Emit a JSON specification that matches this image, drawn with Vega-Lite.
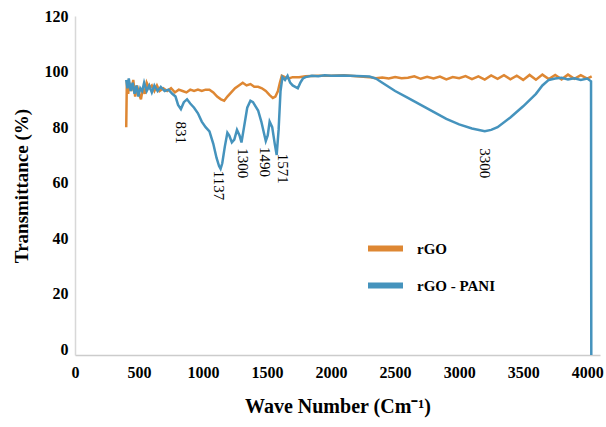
{
  "$schema": "https://vega.github.io/schema/vega-lite/v6.json",
  "width": 525,
  "height": 339,
  "autosize": {"type": "none"},
  "padding": {"left": 75, "top": 16, "right": 6, "bottom": 72},
  "background": "white",
  "config": {"view": {"stroke": null}, "font": "Liberation Serif"},
  "datasets": {
    "spectra": [
      {"series": "rGO", "wavenumber": 400, "transmittance": 80},
      {"series": "rGO", "wavenumber": 405, "transmittance": 97},
      {"series": "rGO", "wavenumber": 415, "transmittance": 92},
      {"series": "rGO", "wavenumber": 425, "transmittance": 96},
      {"series": "rGO", "wavenumber": 440, "transmittance": 93},
      {"series": "rGO", "wavenumber": 455, "transmittance": 97},
      {"series": "rGO", "wavenumber": 470, "transmittance": 91},
      {"series": "rGO", "wavenumber": 485, "transmittance": 95},
      {"series": "rGO", "wavenumber": 500, "transmittance": 92},
      {"series": "rGO", "wavenumber": 515, "transmittance": 90},
      {"series": "rGO", "wavenumber": 530, "transmittance": 94},
      {"series": "rGO", "wavenumber": 545, "transmittance": 92},
      {"series": "rGO", "wavenumber": 560, "transmittance": 96},
      {"series": "rGO", "wavenumber": 580, "transmittance": 94},
      {"series": "rGO", "wavenumber": 600, "transmittance": 95},
      {"series": "rGO", "wavenumber": 620, "transmittance": 93},
      {"series": "rGO", "wavenumber": 640, "transmittance": 95},
      {"series": "rGO", "wavenumber": 660, "transmittance": 93},
      {"series": "rGO", "wavenumber": 690, "transmittance": 94},
      {"series": "rGO", "wavenumber": 720, "transmittance": 93},
      {"series": "rGO", "wavenumber": 750, "transmittance": 94},
      {"series": "rGO", "wavenumber": 780, "transmittance": 92.5},
      {"series": "rGO", "wavenumber": 810, "transmittance": 93.5},
      {"series": "rGO", "wavenumber": 840, "transmittance": 93},
      {"series": "rGO", "wavenumber": 870, "transmittance": 92.5},
      {"series": "rGO", "wavenumber": 900, "transmittance": 93.5},
      {"series": "rGO", "wavenumber": 930, "transmittance": 93},
      {"series": "rGO", "wavenumber": 960, "transmittance": 93.5},
      {"series": "rGO", "wavenumber": 990, "transmittance": 93},
      {"series": "rGO", "wavenumber": 1020, "transmittance": 93.5},
      {"series": "rGO", "wavenumber": 1050, "transmittance": 93.5},
      {"series": "rGO", "wavenumber": 1080, "transmittance": 92.5},
      {"series": "rGO", "wavenumber": 1110, "transmittance": 91},
      {"series": "rGO", "wavenumber": 1140, "transmittance": 90},
      {"series": "rGO", "wavenumber": 1165, "transmittance": 89.5},
      {"series": "rGO", "wavenumber": 1190, "transmittance": 91},
      {"series": "rGO", "wavenumber": 1220, "transmittance": 92.5},
      {"series": "rGO", "wavenumber": 1250, "transmittance": 94},
      {"series": "rGO", "wavenumber": 1280, "transmittance": 95},
      {"series": "rGO", "wavenumber": 1310, "transmittance": 96},
      {"series": "rGO", "wavenumber": 1340, "transmittance": 95},
      {"series": "rGO", "wavenumber": 1370, "transmittance": 95.5},
      {"series": "rGO", "wavenumber": 1400, "transmittance": 94.5},
      {"series": "rGO", "wavenumber": 1430, "transmittance": 94.5},
      {"series": "rGO", "wavenumber": 1460, "transmittance": 94},
      {"series": "rGO", "wavenumber": 1490, "transmittance": 93},
      {"series": "rGO", "wavenumber": 1520, "transmittance": 91.5},
      {"series": "rGO", "wavenumber": 1545, "transmittance": 90.5},
      {"series": "rGO", "wavenumber": 1565, "transmittance": 91},
      {"series": "rGO", "wavenumber": 1585, "transmittance": 93},
      {"series": "rGO", "wavenumber": 1600, "transmittance": 96},
      {"series": "rGO", "wavenumber": 1615, "transmittance": 98.5},
      {"series": "rGO", "wavenumber": 1640, "transmittance": 98},
      {"series": "rGO", "wavenumber": 1670, "transmittance": 97.5},
      {"series": "rGO", "wavenumber": 1700, "transmittance": 98},
      {"series": "rGO", "wavenumber": 1750, "transmittance": 98},
      {"series": "rGO", "wavenumber": 1800, "transmittance": 98.3},
      {"series": "rGO", "wavenumber": 1900, "transmittance": 98.5},
      {"series": "rGO", "wavenumber": 2000, "transmittance": 98.5},
      {"series": "rGO", "wavenumber": 2100, "transmittance": 98.7},
      {"series": "rGO", "wavenumber": 2200, "transmittance": 98.3},
      {"series": "rGO", "wavenumber": 2300, "transmittance": 98},
      {"series": "rGO", "wavenumber": 2350, "transmittance": 97.6},
      {"series": "rGO", "wavenumber": 2400, "transmittance": 97.9},
      {"series": "rGO", "wavenumber": 2450, "transmittance": 97.5},
      {"series": "rGO", "wavenumber": 2500, "transmittance": 98},
      {"series": "rGO", "wavenumber": 2550, "transmittance": 97.6},
      {"series": "rGO", "wavenumber": 2600, "transmittance": 97.8},
      {"series": "rGO", "wavenumber": 2650, "transmittance": 98.3},
      {"series": "rGO", "wavenumber": 2700, "transmittance": 97.4},
      {"series": "rGO", "wavenumber": 2750, "transmittance": 98.1},
      {"series": "rGO", "wavenumber": 2800, "transmittance": 97.5},
      {"series": "rGO", "wavenumber": 2850, "transmittance": 98.2},
      {"series": "rGO", "wavenumber": 2900, "transmittance": 97.2},
      {"series": "rGO", "wavenumber": 2950, "transmittance": 98},
      {"series": "rGO", "wavenumber": 3000, "transmittance": 97.6},
      {"series": "rGO", "wavenumber": 3050, "transmittance": 98.4},
      {"series": "rGO", "wavenumber": 3100, "transmittance": 97.3},
      {"series": "rGO", "wavenumber": 3150, "transmittance": 98.3},
      {"series": "rGO", "wavenumber": 3200, "transmittance": 97.1},
      {"series": "rGO", "wavenumber": 3250, "transmittance": 98.6},
      {"series": "rGO", "wavenumber": 3300, "transmittance": 97.4},
      {"series": "rGO", "wavenumber": 3350, "transmittance": 98.7},
      {"series": "rGO", "wavenumber": 3400, "transmittance": 97.2},
      {"series": "rGO", "wavenumber": 3450, "transmittance": 98.5},
      {"series": "rGO", "wavenumber": 3500, "transmittance": 97},
      {"series": "rGO", "wavenumber": 3550, "transmittance": 98.8},
      {"series": "rGO", "wavenumber": 3600, "transmittance": 97.1},
      {"series": "rGO", "wavenumber": 3650, "transmittance": 98.9},
      {"series": "rGO", "wavenumber": 3700, "transmittance": 97.3},
      {"series": "rGO", "wavenumber": 3750, "transmittance": 98.8},
      {"series": "rGO", "wavenumber": 3800, "transmittance": 97.2},
      {"series": "rGO", "wavenumber": 3850, "transmittance": 98.9},
      {"series": "rGO", "wavenumber": 3900, "transmittance": 97.4},
      {"series": "rGO", "wavenumber": 3950, "transmittance": 98.7},
      {"series": "rGO", "wavenumber": 4000, "transmittance": 97.5},
      {"series": "rGO", "wavenumber": 4035, "transmittance": 98.3},
      {"series": "rGO - PANI", "wavenumber": 400, "transmittance": 97},
      {"series": "rGO - PANI", "wavenumber": 410, "transmittance": 94},
      {"series": "rGO - PANI", "wavenumber": 420, "transmittance": 97.5},
      {"series": "rGO - PANI", "wavenumber": 435, "transmittance": 93},
      {"series": "rGO - PANI", "wavenumber": 450, "transmittance": 96},
      {"series": "rGO - PANI", "wavenumber": 465, "transmittance": 92},
      {"series": "rGO - PANI", "wavenumber": 480, "transmittance": 95},
      {"series": "rGO - PANI", "wavenumber": 495, "transmittance": 91},
      {"series": "rGO - PANI", "wavenumber": 510, "transmittance": 94},
      {"series": "rGO - PANI", "wavenumber": 525, "transmittance": 93},
      {"series": "rGO - PANI", "wavenumber": 540, "transmittance": 96},
      {"series": "rGO - PANI", "wavenumber": 560, "transmittance": 93},
      {"series": "rGO - PANI", "wavenumber": 580, "transmittance": 95},
      {"series": "rGO - PANI", "wavenumber": 600, "transmittance": 92.5},
      {"series": "rGO - PANI", "wavenumber": 620, "transmittance": 95},
      {"series": "rGO - PANI", "wavenumber": 645, "transmittance": 93},
      {"series": "rGO - PANI", "wavenumber": 670, "transmittance": 94.5},
      {"series": "rGO - PANI", "wavenumber": 700, "transmittance": 93},
      {"series": "rGO - PANI", "wavenumber": 730, "transmittance": 93.5},
      {"series": "rGO - PANI", "wavenumber": 760, "transmittance": 92},
      {"series": "rGO - PANI", "wavenumber": 785, "transmittance": 91},
      {"series": "rGO - PANI", "wavenumber": 805, "transmittance": 88},
      {"series": "rGO - PANI", "wavenumber": 827, "transmittance": 86.5},
      {"series": "rGO - PANI", "wavenumber": 850, "transmittance": 89},
      {"series": "rGO - PANI", "wavenumber": 875, "transmittance": 90},
      {"series": "rGO - PANI", "wavenumber": 900, "transmittance": 88.5},
      {"series": "rGO - PANI", "wavenumber": 930, "transmittance": 87},
      {"series": "rGO - PANI", "wavenumber": 960, "transmittance": 85},
      {"series": "rGO - PANI", "wavenumber": 990, "transmittance": 82},
      {"series": "rGO - PANI", "wavenumber": 1020, "transmittance": 80},
      {"series": "rGO - PANI", "wavenumber": 1050, "transmittance": 78.5},
      {"series": "rGO - PANI", "wavenumber": 1080, "transmittance": 74},
      {"series": "rGO - PANI", "wavenumber": 1105, "transmittance": 69},
      {"series": "rGO - PANI", "wavenumber": 1125, "transmittance": 66},
      {"series": "rGO - PANI", "wavenumber": 1137, "transmittance": 65},
      {"series": "rGO - PANI", "wavenumber": 1150, "transmittance": 67},
      {"series": "rGO - PANI", "wavenumber": 1170, "transmittance": 73},
      {"series": "rGO - PANI", "wavenumber": 1190, "transmittance": 78},
      {"series": "rGO - PANI", "wavenumber": 1205, "transmittance": 77},
      {"series": "rGO - PANI", "wavenumber": 1225, "transmittance": 74.5},
      {"series": "rGO - PANI", "wavenumber": 1244, "transmittance": 75.5},
      {"series": "rGO - PANI", "wavenumber": 1265, "transmittance": 79},
      {"series": "rGO - PANI", "wavenumber": 1285, "transmittance": 77},
      {"series": "rGO - PANI", "wavenumber": 1300, "transmittance": 74.5},
      {"series": "rGO - PANI", "wavenumber": 1320, "transmittance": 80},
      {"series": "rGO - PANI", "wavenumber": 1345, "transmittance": 87},
      {"series": "rGO - PANI", "wavenumber": 1370, "transmittance": 89.5},
      {"series": "rGO - PANI", "wavenumber": 1390, "transmittance": 89},
      {"series": "rGO - PANI", "wavenumber": 1410, "transmittance": 87.5},
      {"series": "rGO - PANI", "wavenumber": 1430, "transmittance": 86},
      {"series": "rGO - PANI", "wavenumber": 1455, "transmittance": 82},
      {"series": "rGO - PANI", "wavenumber": 1475, "transmittance": 78},
      {"series": "rGO - PANI", "wavenumber": 1490, "transmittance": 75},
      {"series": "rGO - PANI", "wavenumber": 1505, "transmittance": 77},
      {"series": "rGO - PANI", "wavenumber": 1520, "transmittance": 82},
      {"series": "rGO - PANI", "wavenumber": 1540, "transmittance": 80},
      {"series": "rGO - PANI", "wavenumber": 1560, "transmittance": 74},
      {"series": "rGO - PANI", "wavenumber": 1575, "transmittance": 70},
      {"series": "rGO - PANI", "wavenumber": 1590, "transmittance": 79},
      {"series": "rGO - PANI", "wavenumber": 1605, "transmittance": 93},
      {"series": "rGO - PANI", "wavenumber": 1620, "transmittance": 98},
      {"series": "rGO - PANI", "wavenumber": 1640, "transmittance": 97},
      {"series": "rGO - PANI", "wavenumber": 1660, "transmittance": 98.5},
      {"series": "rGO - PANI", "wavenumber": 1680, "transmittance": 96},
      {"series": "rGO - PANI", "wavenumber": 1700, "transmittance": 95},
      {"series": "rGO - PANI", "wavenumber": 1720, "transmittance": 94.5},
      {"series": "rGO - PANI", "wavenumber": 1740, "transmittance": 94},
      {"series": "rGO - PANI", "wavenumber": 1760, "transmittance": 96},
      {"series": "rGO - PANI", "wavenumber": 1780, "transmittance": 97.5},
      {"series": "rGO - PANI", "wavenumber": 1800, "transmittance": 98},
      {"series": "rGO - PANI", "wavenumber": 1850, "transmittance": 98.5},
      {"series": "rGO - PANI", "wavenumber": 1900, "transmittance": 98.3},
      {"series": "rGO - PANI", "wavenumber": 1950, "transmittance": 98.7},
      {"series": "rGO - PANI", "wavenumber": 2000, "transmittance": 98.5},
      {"series": "rGO - PANI", "wavenumber": 2100, "transmittance": 98.6},
      {"series": "rGO - PANI", "wavenumber": 2200, "transmittance": 98.4},
      {"series": "rGO - PANI", "wavenumber": 2300, "transmittance": 98.2},
      {"series": "rGO - PANI", "wavenumber": 2350, "transmittance": 97.5},
      {"series": "rGO - PANI", "wavenumber": 2400, "transmittance": 96},
      {"series": "rGO - PANI", "wavenumber": 2500, "transmittance": 93},
      {"series": "rGO - PANI", "wavenumber": 2600, "transmittance": 90.5},
      {"series": "rGO - PANI", "wavenumber": 2700, "transmittance": 88},
      {"series": "rGO - PANI", "wavenumber": 2800, "transmittance": 85.5},
      {"series": "rGO - PANI", "wavenumber": 2900, "transmittance": 83},
      {"series": "rGO - PANI", "wavenumber": 3000, "transmittance": 81},
      {"series": "rGO - PANI", "wavenumber": 3100, "transmittance": 79.5},
      {"series": "rGO - PANI", "wavenumber": 3200, "transmittance": 78.5},
      {"series": "rGO - PANI", "wavenumber": 3250, "transmittance": 79},
      {"series": "rGO - PANI", "wavenumber": 3300, "transmittance": 80},
      {"series": "rGO - PANI", "wavenumber": 3400, "transmittance": 83.5},
      {"series": "rGO - PANI", "wavenumber": 3500, "transmittance": 87.5},
      {"series": "rGO - PANI", "wavenumber": 3600, "transmittance": 92},
      {"series": "rGO - PANI", "wavenumber": 3650, "transmittance": 95},
      {"series": "rGO - PANI", "wavenumber": 3700, "transmittance": 97},
      {"series": "rGO - PANI", "wavenumber": 3750, "transmittance": 97.5},
      {"series": "rGO - PANI", "wavenumber": 3800, "transmittance": 97.8},
      {"series": "rGO - PANI", "wavenumber": 3850, "transmittance": 97.2},
      {"series": "rGO - PANI", "wavenumber": 3900, "transmittance": 97.6},
      {"series": "rGO - PANI", "wavenumber": 3950, "transmittance": 97},
      {"series": "rGO - PANI", "wavenumber": 4000, "transmittance": 97.5},
      {"series": "rGO - PANI", "wavenumber": 4030, "transmittance": 96.5},
      {"series": "rGO - PANI", "wavenumber": 4032, "transmittance": -2}
    ],
    "peaks": [
      {"label": "831", "wavenumber": 827, "transmittance": 78},
      {"label": "1137", "wavenumber": 1126, "transmittance": 59},
      {"label": "1300", "wavenumber": 1315, "transmittance": 67},
      {"label": "1490", "wavenumber": 1480, "transmittance": 67.5},
      {"label": "1571", "wavenumber": 1622, "transmittance": 65},
      {"label": "3300", "wavenumber": 3205, "transmittance": 67}
    ]
  },
  "layer": [
    {
      "data": {"name": "spectra"},
      "mark": {"type": "line", "strokeWidth": 2.5},
      "encoding": {
        "x": {
          "field": "wavenumber",
          "type": "quantitative",
          "scale": {"domain": [0, 4100], "nice": false, "zero": false},
          "axis": {
            "values": [0, 500, 1000, 1500, 2000, 2500, 3000, 3500, 4000],
            "format": "d",
            "title": "Wave Number (Cm⁻¹)",
            "titleFont": "Liberation Serif",
            "titleFontSize": 20,
            "titleFontWeight": "bold",
            "titleColor": "black",
            "titlePadding": 16,
            "labelFont": "Liberation Serif",
            "labelFontSize": 16,
            "labelFontWeight": "bold",
            "labelColor": "black",
            "labelPadding": 9,
            "labelFlush": false,
            "ticks": false,
            "grid": false,
            "domainColor": "#cccccc",
            "domainWidth": 1.5
          }
        },
        "y": {
          "field": "transmittance",
          "type": "quantitative",
          "scale": {"domain": [-2, 120], "nice": false, "zero": false},
          "axis": {
            "values": [0, 20, 40, 60, 80, 100, 120],
            "title": "Transmittance (%)",
            "titleFont": "Liberation Serif",
            "titleFontSize": 19,
            "titleFontWeight": "bold",
            "titleColor": "black",
            "titlePadding": 13,
            "labelFont": "Liberation Serif",
            "labelFontSize": 16,
            "labelFontWeight": "bold",
            "labelColor": "black",
            "labelPadding": 7,
            "ticks": false,
            "grid": false,
            "domainColor": "#d8d8d8",
            "domainWidth": 1.5
          }
        },
        "color": {
          "field": "series",
          "type": "nominal",
          "scale": {"domain": ["rGO", "rGO - PANI"], "range": ["#DE8733", "#4593BD"]},
          "legend": {
            "title": null,
            "orient": "none",
            "legendX": 290,
            "legendY": 212,
            "symbolType": "stroke",
            "symbolSize": 1225,
            "symbolStrokeWidth": 6,
            "rowPadding": 4,
            "labelFont": "Liberation Serif",
            "labelFontSize": 15,
            "labelFontWeight": "bold",
            "labelColor": "black",
            "labelOffset": 11
          }
        }
      }
    },
    {
      "data": {"name": "peaks"},
      "mark": {"type": "text", "angle": 90, "font": "Liberation Serif", "fontSize": 15, "color": "black", "align": "center", "baseline": "middle"},
      "encoding": {
        "x": {"field": "wavenumber", "type": "quantitative"},
        "y": {"field": "transmittance", "type": "quantitative"},
        "text": {"field": "label", "type": "nominal"}
      }
    }
  ]
}
